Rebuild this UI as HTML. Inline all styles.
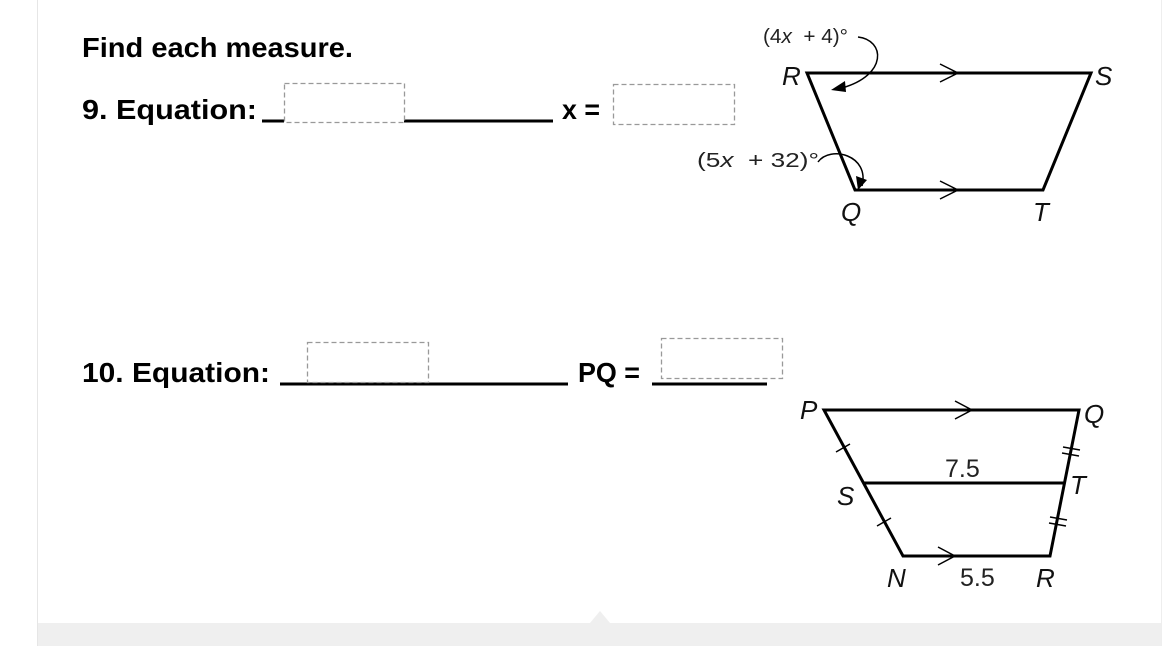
<!DOCTYPE html>
<html><head><meta charset="utf-8"><style>
html,body{margin:0;padding:0;background:#fff;}
svg{display:block;}
.d{fill:none;stroke:#999;stroke-width:1.3;stroke-dasharray:5,3;}
</style></head><body>
<svg width="1175" height="646" viewBox="0 0 1175 646">
<rect x="37" y="0" width="1125" height="646" fill="#fff"/>
<line x1="37.5" y1="0" x2="37.5" y2="646" stroke="#e6e6e6"/>
<line x1="1161.5" y1="0" x2="1161.5" y2="646" stroke="#eeeeee"/>
<rect x="38" y="623" width="1123" height="23" fill="#efefef"/>
<polygon points="590,623 600,611 610,623" fill="#efefef"/>

<g style="font-family:'Liberation Sans',sans-serif;font-weight:bold;font-size:28px;fill:#000">
<text x="82" y="57" textLength="271" lengthAdjust="spacingAndGlyphs">Find each measure.</text>
<text x="82" y="119" textLength="175" lengthAdjust="spacingAndGlyphs">9. Equation:</text>
<text x="562" y="119" textLength="38" lengthAdjust="spacingAndGlyphs">x =</text>
<text x="82" y="382" textLength="188" lengthAdjust="spacingAndGlyphs">10. Equation:</text>
<text x="578" y="382" textLength="62" lengthAdjust="spacingAndGlyphs">PQ =</text>
</g>
<line x1="262" y1="121" x2="553" y2="121" stroke="#000" stroke-width="3"/>
<rect x="284" y="84" width="120" height="39" fill="#fff"/>
<rect class="d" x="284.5" y="83.5" width="120" height="39"/>
<rect class="d" x="613.5" y="84.5" width="121" height="40"/>
<line x1="280" y1="384" x2="568" y2="384" stroke="#000" stroke-width="3"/>
<rect x="307" y="343" width="121" height="39" fill="#fff"/>
<rect class="d" x="307.5" y="342.5" width="121" height="40"/>
<line x1="652" y1="384" x2="767" y2="384" stroke="#000" stroke-width="3"/>
<rect class="d" x="661.5" y="338.5" width="121" height="40"/>

<!-- diagram 1 -->
<g stroke="#000" stroke-width="3" fill="none">
<polygon points="807,73 1091,73 1043,190 855,190"/>
</g>
<g stroke="#000" stroke-width="1.5" fill="none">
<polyline points="940,64 958,73 940,82"/>
<polyline points="940,181 958,190 940,199"/>
<path d="M858,37 C885,40 888,75 842,88"/>
<path d="M818,162 C830,145 870,155 862,186"/>
</g>
<polygon points="831,90 845,81 846,92" fill="#000"/>
<polygon points="858,190 856,176 867,180" fill="#000"/>
<g style="font-family:'Liberation Sans',sans-serif;font-size:20px;fill:#222">
<text x="763" y="43" textLength="85" lengthAdjust="spacingAndGlyphs" xml:space="preserve">(4<tspan font-style="italic">x</tspan>  + 4)°</text>
<text x="697" y="167" textLength="122" lengthAdjust="spacingAndGlyphs" xml:space="preserve">(5<tspan font-style="italic">x</tspan>  + 32)°</text>
<text x="945" y="477" style="font-size:25px">7.5</text>
<text x="960" y="586" style="font-size:25px">5.5</text>
</g>
<g style="font-family:'Liberation Sans',sans-serif;font-style:italic;font-size:26px;fill:#111">
<text x="782" y="85">R</text>
<text x="1095" y="85">S</text>
<text x="841" y="221">Q</text>
<text x="1033" y="221">T</text>
<text x="800" y="419">P</text>
<text x="1084" y="423">Q</text>
<text x="837" y="505">S</text>
<text x="1070" y="494">T</text>
<text x="887" y="587">N</text>
<text x="1036" y="587">R</text>
</g>

<!-- diagram 2 -->
<g stroke="#000" stroke-width="3" fill="none">
<polygon points="824,410 1079,410 1050,556 903,556"/>
<line x1="864" y1="483" x2="1065" y2="483"/>
</g>
<g stroke="#000" stroke-width="1.5" fill="none">
<polyline points="955,401 972,410 955,419"/>
<polyline points="938,547 955,556 938,565"/>
<line x1="836" y1="452" x2="850" y2="444"/>
<line x1="877" y1="526" x2="891" y2="518"/>
<line x1="1063" y1="447" x2="1080" y2="450"/>
<line x1="1062" y1="453" x2="1079" y2="456"/>
<line x1="1050" y1="517" x2="1067" y2="520"/>
<line x1="1049" y1="523" x2="1066" y2="526"/>
</g>
</svg>
</body></html>
